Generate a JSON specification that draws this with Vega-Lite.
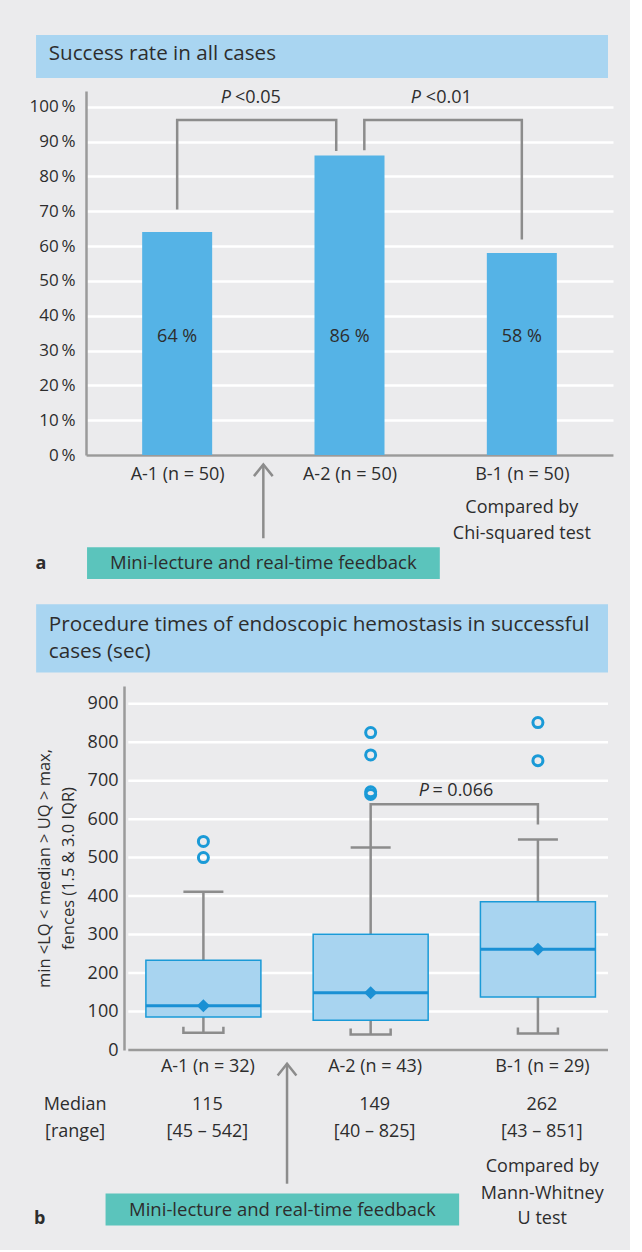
{
  "$schema": "https://vega.github.io/schema/vega-lite/v6.json",
  "background": "#ebebed",
  "padding": {"left": 28, "top": 34, "right": 17, "bottom": 22},
  "config": {
    "view": {"stroke": null},
    "font": "Open Sans",
    "axis": {"domainColor": "#9a9a9a", "domainWidth": 2.5, "ticks": false, "labelColor": "#2d2d2d", "labelFontSize": 17, "labelOverlap": false, "gridColor": "#ffffff", "gridWidth": 2.5, "gridOpacity": 1, "titleColor": "#2d2d2d", "titleFontWeight": "normal"},
    "text": {"color": "#2d2d2d", "fontSize": 18}
  },
  "datasets": {
    "barsA": [
      {"pos": 1, "rate": 64, "label": "64 %"},
      {"pos": 2, "rate": 86, "label": "86 %"},
      {"pos": 3, "rate": 58, "label": "58 %"}
    ],
    "boxB": [
      {"pos": 1, "lower": 45, "q1": 86, "median": 115, "q3": 233, "upper": 411, "med": "115", "range": "[45 – 542]"},
      {"pos": 2, "lower": 40, "q1": 77, "median": 149, "q3": 301, "upper": 526, "med": "149", "range": "[40 – 825]"},
      {"pos": 3, "lower": 43, "q1": 138, "median": 262, "q3": 385, "upper": 547, "med": "262", "range": "[43 – 851]"}
    ],
    "outliersB": [
      {"pos": 1, "value": 500}, {"pos": 1, "value": 542},
      {"pos": 2, "value": 664}, {"pos": 2, "value": 671}, {"pos": 2, "value": 767}, {"pos": 2, "value": 825},
      {"pos": 3, "value": 752}, {"pos": 3, "value": 851}
    ],
    "gridB": [{"g": 100}, {"g": 200}, {"g": 300}, {"g": 400}, {"g": 500}, {"g": 600}, {"g": 700}, {"g": 800}, {"g": 900}]
  },
  "columns": 1,
  "spacing": 24,
  "concat": [
    {
      "width": 527,
      "height": 364,
      "data": {"values": [{}]},
      "layer": [
        {"mark": {"type": "rect", "color": "#a9d5f1"}, "encoding": {"x": {"datum": 0.181}, "x2": {"datum": 3.5}, "y": {"datum": 120.6}, "y2": {"datum": 108.25}}},
        {"mark": {"type": "text", "text": "Success rate in all cases", "align": "left", "baseline": "middle", "fontSize": 20.6}, "encoding": {"x": {"datum": 0.255}, "y": {"datum": 115.1}}},
        {
          "data": {"name": "barsA"},
          "mark": {"type": "bar", "orient": "vertical", "width": 70, "color": "#55b3e6"},
          "encoding": {
            "x": {"field": "pos", "type": "quantitative", "title": null, "scale": {"domain": [0.5, 3.5], "nice": false, "zero": false},
                  "axis": {"title": null, "values": [1, 2, 3], "labelExpr": "datum.value == 1 ? 'A-1 (n = 50)' : datum.value == 2 ? 'A-2 (n = 50)' : 'B-1 (n = 50)'", "labelPadding": 10, "labelFontSize": 18, "grid": false}},
            "y": {"field": "rate", "type": "quantitative", "title": null, "scale": {"domain": [0, 104.5], "nice": false},
                  "axis": {"title": null, "values": [0, 10, 20, 30, 40, 50, 60, 70, 80, 90, 100], "tickCount": 20, "labelExpr": "datum.value + '\u2009%'", "labelPadding": 11, "grid": true}}
          }
        },
        {"data": {"name": "barsA"}, "mark": {"type": "text", "baseline": "middle"}, "encoding": {"x": {"field": "pos", "type": "quantitative"}, "y": {"datum": 34}, "text": {"field": "label"}}},
        {
          "data": {"values": [
            {"b": 1, "o": 1, "bx": 1.0, "by": 70.5}, {"b": 1, "o": 2, "bx": 1.0, "by": 96.2}, {"b": 1, "o": 3, "bx": 1.923, "by": 96.2}, {"b": 1, "o": 4, "bx": 1.923, "by": 87.3},
            {"b": 2, "o": 1, "bx": 2.086, "by": 87.5}, {"b": 2, "o": 2, "bx": 2.086, "by": 96.2}, {"b": 2, "o": 3, "bx": 3.0, "by": 96.2}, {"b": 2, "o": 4, "bx": 3.0, "by": 61.9}
          ]},
          "mark": {"type": "line", "color": "#8c8c8c", "strokeWidth": 2.5},
          "encoding": {"x": {"field": "bx", "type": "quantitative"}, "y": {"field": "by", "type": "quantitative"}, "detail": {"field": "b"}, "order": {"field": "o"}}
        },
        {"data": {"values": [{"px": 1.253, "py": 102.4}, {"px": 2.356, "py": 102.4}]}, "mark": {"type": "text", "text": "P", "fontStyle": "italic", "align": "left", "baseline": "middle"}, "encoding": {"x": {"field": "px", "type": "quantitative"}, "y": {"field": "py", "type": "quantitative"}}},
        {"data": {"values": [{"px": 1.335, "py": 102.4, "t": "<0.05"}, {"px": 2.443, "py": 102.4, "t": "<0.01"}]}, "mark": {"type": "text", "align": "left", "baseline": "middle"}, "encoding": {"x": {"field": "px", "type": "quantitative"}, "y": {"field": "py", "type": "quantitative"}, "text": {"field": "t"}}},
        {"data": {"values": [{"px": 3.0, "py": -15.2, "t": "Compared by"}, {"px": 3.0, "py": -22.8, "t": "Chi-squared test"}]}, "mark": {"type": "text", "baseline": "middle"}, "encoding": {"x": {"field": "px", "type": "quantitative"}, "y": {"field": "py", "type": "quantitative"}, "text": {"field": "t"}}},
        {"mark": {"type": "rule", "color": "#8c8c8c", "strokeWidth": 2.5}, "encoding": {"x": {"datum": 1.5}, "y": {"datum": -2.7}, "y2": {"datum": -23.9}}},
        {"mark": {"type": "point", "shape": "M-0.8,1L0,0L0.8,1", "filled": false, "color": "#8c8c8c", "strokeWidth": 2.5, "size": 548, "opacity": 1}, "encoding": {"x": {"datum": 1.5}, "y": {"datum": -2.7}}},
        {"mark": {"type": "rect", "color": "#5bc4bc"}, "encoding": {"x": {"datum": 0.477}, "x2": {"datum": 2.524}, "y": {"datum": -26.5}, "y2": {"datum": -35.6}}},
        {"mark": {"type": "text", "text": "Mini-lecture and real-time feedback", "baseline": "middle", "fontSize": 18.5}, "encoding": {"x": {"datum": 1.5}, "y": {"datum": -31.1}}},
        {"mark": {"type": "text", "text": "a", "baseline": "middle", "fontWeight": "bold", "fontSize": 18}, "encoding": {"x": {"datum": 0.21}, "y": {"datum": -31.4}}}
      ]
    },
    {
      "width": 527,
      "height": 364,
      "data": {"values": [{}]},
      "layer": [
        {"mark": {"type": "rect", "color": "#a9d5f1"}, "encoding": {"x": {"datum": 0.0}, "x2": {"datum": 3.419}, "y": {"datum": 1158.4}, "y2": {"datum": 980.8}}},
        {"data": {"values": [{"px": 0.076, "py": 1104.7, "t": "Procedure times of endoscopic hemostasis in successful"}, {"px": 0.076, "py": 1034.5, "t": "cases (sec)"}]}, "mark": {"type": "text", "align": "left", "baseline": "middle", "fontSize": 20.7}, "encoding": {"x": {"field": "px", "type": "quantitative"}, "y": {"field": "py", "type": "quantitative"}, "text": {"field": "t"}}},
        {"data": {"name": "gridB"}, "mark": {"type": "rule", "color": "#ffffff", "strokeWidth": 2.5}, "encoding": {"x": {"datum": 0.551}, "x2": {"datum": 3.419}, "y": {"field": "g", "type": "quantitative"}}},
        {"mark": {"type": "rule", "color": "#9a9a9a", "strokeWidth": 2.5}, "encoding": {"x": {"datum": 0.551}, "x2": {"datum": 3.419}, "y": {"datum": 0}}},
        {"data": {"name": "boxB"}, "mark": {"type": "rule", "color": "#8c8c8c", "strokeWidth": 2.5}, "encoding": {"x": {"field": "pos", "type": "quantitative"}, "y": {"field": "q3", "type": "quantitative"}, "y2": {"field": "upper"}}},
        {"data": {"name": "boxB"}, "mark": {"type": "rule", "color": "#8c8c8c", "strokeWidth": 2.5}, "encoding": {"x": {"field": "pos", "type": "quantitative"}, "y": {"field": "lower", "type": "quantitative"}, "y2": {"field": "q1"}}},
        {
          "data": {"name": "boxB"},
          "mark": {"type": "bar", "width": 115, "fill": "#a8d4f0", "stroke": "#1a9ad7", "strokeWidth": 1.5},
          "encoding": {
            "x": {"field": "pos", "type": "quantitative", "title": null, "scale": {"domain": [0.328, 3.419], "nice": false, "zero": false},
                  "axis": {"title": null, "values": [1, 2, 3], "labelExpr": "datum.value == 1 ? 'A-1 (n = 32)' : datum.value == 2 ? 'A-2 (n = 43)' : 'B-1 (n = 29)'", "labelPadding": 7, "labelOffset": 4, "labelFontSize": 18, "grid": false, "domain": false}},
            "y": {"field": "q1", "type": "quantitative", "scale": {"domain": [0, 946], "nice": false},
                  "axis": {"title": ["min <LQ < median > UQ > max,", "fences (1.5 & 3.0 IQR)"], "offset": -38, "titleFontSize": 16.5, "titleLineHeight": 24, "titleX": -80, "titleY": 182, "titleBaseline": "middle", "titleAngle": 270, "values": [0, 100, 200, 300, 400, 500, 600, 700, 800, 900], "tickCount": 20, "labelPadding": 6, "labelFontSize": 18, "grid": false}},
            "y2": {"field": "q3"}
          }
        },
        {"data": {"name": "boxB"}, "mark": {"type": "point", "shape": "M-1,0L1,0", "filled": false, "color": "#1a90d4", "strokeWidth": 3, "size": 13225, "opacity": 1}, "encoding": {"x": {"field": "pos", "type": "quantitative"}, "y": {"field": "median", "type": "quantitative"}}},
        {"data": {"name": "boxB"}, "mark": {"type": "point", "shape": "diamond", "filled": true, "color": "#1a90d4", "size": 170, "opacity": 1}, "encoding": {"x": {"field": "pos", "type": "quantitative"}, "y": {"field": "median", "type": "quantitative"}}},
        {"data": {"name": "boxB"}, "mark": {"type": "point", "shape": "M-1,0L1,0", "filled": false, "color": "#8c8c8c", "strokeWidth": 2.5, "size": 1600, "opacity": 1}, "encoding": {"x": {"field": "pos", "type": "quantitative"}, "y": {"field": "upper", "type": "quantitative"}}},
        {"data": {"name": "boxB"}, "mark": {"type": "point", "shape": "M-1,-0.3L-1,0L1,0L1,-0.3", "filled": false, "color": "#8c8c8c", "strokeWidth": 2.5, "size": 1600, "opacity": 1}, "encoding": {"x": {"field": "pos", "type": "quantitative"}, "y": {"field": "lower", "type": "quantitative"}}},
        {"data": {"name": "outliersB"}, "mark": {"type": "point", "shape": "circle", "filled": false, "color": "#1a9ad7", "strokeWidth": 3, "size": 100, "opacity": 1}, "encoding": {"x": {"field": "pos", "type": "quantitative"}, "y": {"field": "value", "type": "quantitative"}}},
        {
          "data": {"values": [{"o": 1, "bx": 2.0, "by": 526}, {"o": 2, "bx": 2.0, "by": 639}, {"o": 3, "bx": 3.0, "by": 639}, {"o": 4, "bx": 3.0, "by": 586}]},
          "mark": {"type": "line", "color": "#8c8c8c", "strokeWidth": 2.5},
          "encoding": {"x": {"field": "bx", "type": "quantitative"}, "y": {"field": "by", "type": "quantitative"}, "order": {"field": "o"}}
        },
        {"mark": {"type": "text", "text": "P", "fontStyle": "italic", "align": "left", "baseline": "middle"}, "encoding": {"x": {"datum": 2.287}, "y": {"datum": 672.7}}},
        {"mark": {"type": "text", "text": "= 0.066", "align": "left", "baseline": "middle"}, "encoding": {"x": {"datum": 2.369}, "y": {"datum": 672.7}}},
        {"data": {"name": "boxB"}, "mark": {"type": "text", "baseline": "middle", "dx": 4}, "encoding": {"x": {"field": "pos", "type": "quantitative"}, "y": {"datum": -142.1}, "text": {"field": "med"}}},
        {"data": {"name": "boxB"}, "mark": {"type": "text", "baseline": "middle", "dx": 4}, "encoding": {"x": {"field": "pos", "type": "quantitative"}, "y": {"datum": -212.2}, "text": {"field": "range"}}},
        {"data": {"values": [{"px": 0.233, "py": -142.1, "t": "Median"}, {"px": 0.233, "py": -212.2, "t": "[range]"}, {"px": 3.026, "py": -303.1, "t": "Compared by"}, {"px": 3.026, "py": -373.2, "t": "Mann-Whitney"}, {"px": 3.026, "py": -438.2, "t": "U test"}]}, "mark": {"type": "text", "baseline": "middle"}, "encoding": {"x": {"field": "px", "type": "quantitative"}, "y": {"field": "py", "type": "quantitative"}, "text": {"field": "t"}}},
        {"mark": {"type": "rule", "color": "#8c8c8c", "strokeWidth": 2.5}, "encoding": {"x": {"datum": 1.5}, "y": {"datum": -35.8}, "y2": {"datum": -347.5}}},
        {"mark": {"type": "point", "shape": "M-0.8,1L0,0L0.8,1", "filled": false, "color": "#8c8c8c", "strokeWidth": 2.5, "size": 548, "opacity": 1}, "encoding": {"x": {"datum": 1.5}, "y": {"datum": -35.8}}},
        {"mark": {"type": "rect", "color": "#5bc4bc"}, "encoding": {"x": {"datum": 0.415}, "x2": {"datum": 2.529}, "y": {"datum": -373.2}, "y2": {"datum": -456.4}}},
        {"mark": {"type": "text", "text": "Mini-lecture and real-time feedback", "baseline": "middle", "fontSize": 18.5}, "encoding": {"x": {"datum": 1.472}, "y": {"datum": -414.8}}},
        {"mark": {"type": "text", "text": "b", "baseline": "middle", "fontWeight": "bold", "fontSize": 18}, "encoding": {"x": {"datum": 0.021}, "y": {"datum": -438.2}}}
      ]
    }
  ]
}
